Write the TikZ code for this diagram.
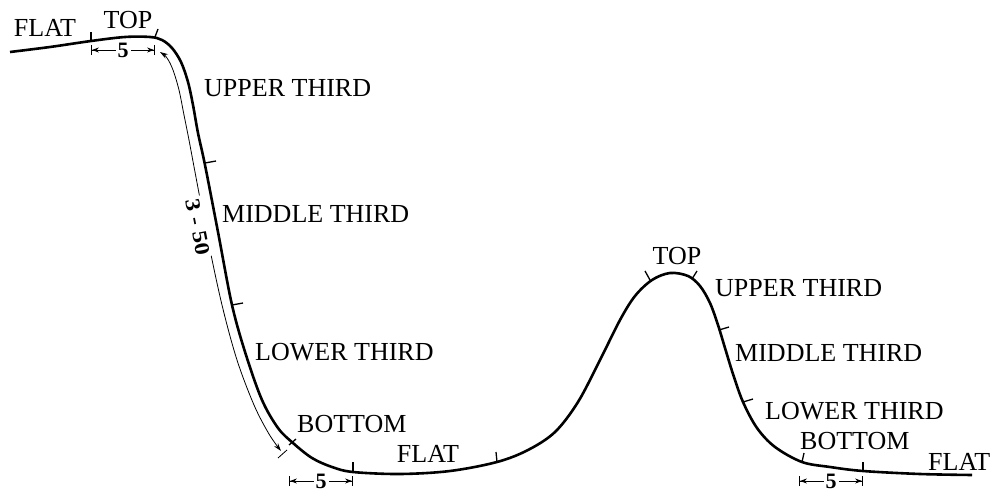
\documentclass[tikz,border=0pt]{standalone}
\usepackage{fontspec}
\setmainfont{Liberation Serif}
\usetikzlibrary{arrows.meta}
\begin{document}
\begin{tikzpicture}[x=1pt,y=-1pt,
  lbl/.style={inner sep=0pt,font=\fontsize{26}{28}\selectfont},
  dimlbl/.style={inner sep=2pt,fill=white,font=\fontsize{22}{23}\selectfont\bfseries},
  curve/.style={line width=2.6pt,line join=round},
  tick/.style={line width=1.3pt},
  thin/.style={line width=0.8pt},
  dimline/.style={line width=0.9pt,{Bar[width=10pt]Stealth[length=7pt,width=5pt]}-{Stealth[length=7pt,width=5pt]Bar[width=10pt]}}]
\useasboundingbox (0,0) rectangle (993,494);
% main profile
\draw[curve] plot[smooth,tension=0.55] coordinates {
 (10,52) (50,47) (91,41) (125,37) (150,37) (162,40) (172,48) (181,62) (188,82)
 (193,105) (198,133) (205,165) (218,232) (232,305) (246,355) (262,400) (278,428)
 (293,443) (312,458) (332,467) (353,472) (400,474) (450,471) (497,462) (528,450)
 (555,432) (578,402) (600,360) (620,320) (635,296) (652,280) (670,273) (688,276)
 (700,286) (710,303) (718,325) (725,348) (733,374) (743,402) (757,428) (775,447)
 (802,462) (830,467) (863,471) (920,474) (972,475)};
% ticks
\draw[tick] (91,41) -- (91,32);
\draw[tick] (155,37) -- (158,29);
\draw[tick] (205,163) -- (216,161);
\draw[tick] (232,305) -- (243,303);
\draw[tick] (289,445) -- (296,439);
\draw[tick] (353,472) -- (353,462);
\draw[tick] (497,462) -- (496,452);
\draw[tick] (650,280) -- (645,271);
\draw[tick] (692,279) -- (697,271);
\draw[tick] (719,330) -- (729,327);
\draw[tick] (743,402) -- (753,399);
\draw[tick] (802,462) -- (804,453);
\draw[tick] (863,471) -- (863,462);
% 3 - 50 span arrow
\draw[thin,{Stealth[length=8pt,width=5pt]}-{Stealth[length=8pt,width=5pt]}] plot[smooth,tension=0.55] coordinates {
 (160,52) (167,58) (173,70) (179,90) (184,115) (189,140) (195,172) (208,240)
 (222,305) (237,360) (254,405) (269,434) (281,451)};
\draw[thin] (278,458) -- (287,450);
\node[inner sep=2.5pt,fill=white,rotate=-79,font=\fontsize{21}{22}\selectfont\bfseries] (span) at (198,227) {\scalebox{1.15}[1]{3 - 50}};
% dimension lines
\coordinate (d1a) at (91,50); \coordinate (d1b) at (155,50);
\coordinate (d2a) at (289,481); \coordinate (d2b) at (353,481);
\coordinate (d3a) at (799,481); \coordinate (d3b) at (863,481);
\draw[dimline] (d1a) -- node[dimlbl] (five1) {5} (d1b);
\draw[dimline] (d2a) -- node[dimlbl] (five2) {5} (d2b);
\draw[dimline] (d3a) -- node[dimlbl] (five3) {5} (d3b);
% labels
\node[lbl] (flat1) at (45,28) {FLAT};
\node[lbl] (top1) at (128,20) {TOP};
\node[lbl,anchor=west] (upper1) at (204,88) {UPPER THIRD};
\node[lbl,anchor=west] (middle1) at (222,214) {MIDDLE THIRD};
\node[lbl,anchor=west] (lower1) at (255,352) {LOWER THIRD};
\node[lbl,anchor=west] (bottom1) at (297,424) {BOTTOM};
\node[lbl] (flat2) at (428,454) {FLAT};
\node[lbl] (top2) at (677,256) {TOP};
\node[lbl,anchor=west] (upper2) at (715,288) {UPPER THIRD};
\node[lbl,anchor=west] (middle2) at (735,353) {MIDDLE THIRD};
\node[lbl,anchor=west] (lower2) at (765,411) {LOWER THIRD};
\node[lbl,anchor=west] (bottom2) at (800,441) {BOTTOM};
\node[lbl,anchor=west] (flat3) at (928,462) {FLAT};
\end{tikzpicture}
\end{document}
